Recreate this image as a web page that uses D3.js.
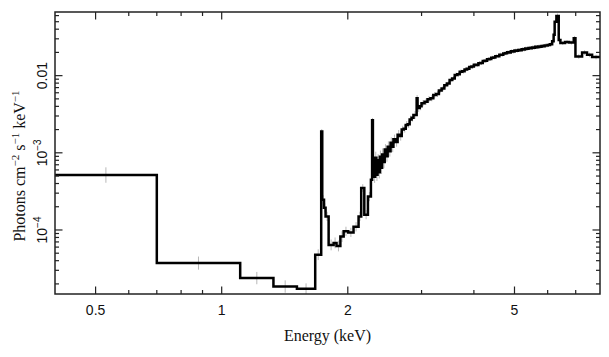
<!DOCTYPE html>
<html>
<head>
<meta charset="utf-8">
<script src="https://cdn.jsdelivr.net/npm/d3@7"></script>
<style>
  html, body { margin: 0; padding: 0; background: #fff; }
  svg { display: block; }
</style>
</head>
<body>
<svg id="chart" width="609" height="357"></svg>
<script>
// ---------------- data ----------------
// bin edges in keV (n+1 values)
const binEdges = [
  0.40, 0.70, 1.107, 1.329, 1.512, 1.672, 1.728, 1.738, 1.755, 1.77, 1.80,
  1.85, 1.88, 1.92, 1.955, 2.005, 2.064, 2.122, 2.153, 2.19, 2.234,
  2.271, 2.286, 2.296, 2.31, 2.325, 2.34, 2.355, 2.37, 2.385, 2.40,
  2.415, 2.43, 2.45, 2.47, 2.49, 2.51, 2.53, 2.55, 2.57, 2.60,
  2.63, 2.66, 2.69, 2.72, 2.75, 2.78, 2.81, 2.84, 2.87, 2.92,
  2.935, 2.97, 3.00,
  3.05, 3.10, 3.15, 3.20, 3.25, 3.30, 3.35, 3.40, 3.45, 3.50,
  3.55, 3.60, 3.65, 3.70, 3.75, 3.80, 3.85, 3.90, 3.95, 4.00,
  4.05, 4.10, 4.15, 4.20, 4.25, 4.30, 4.35, 4.40, 4.45, 4.50,
  4.55, 4.60, 4.65, 4.70, 4.75, 4.80, 4.85, 4.90, 4.95, 5.00,
  5.05, 5.10, 5.15, 5.20, 5.25, 5.30, 5.35, 5.40, 5.45, 5.50,
  5.55, 5.60, 5.65, 5.70, 5.75, 5.80, 5.85, 5.90, 5.95, 6.00,
  6.075, 6.15, 6.2, 6.235, 6.295, 6.376, 6.436, 6.6, 6.75, 6.925,
  6.99, 7.25, 7.45, 7.66, 8.0
];
// photons cm^-2 s^-1 keV^-1 per bin
const fluxValues = [
  5.15e-4, 3.72e-5, 2.38e-5, 1.85e-5, 1.73e-5, 4.78e-5, 1.89e-3, 2.46e-4, 1.94e-4, 1.5e-4,
  6.4e-5, 6.8e-5, 6.2e-5, 8.2e-5, 9.6e-5, 9.3e-5, 1.1e-4, 1.5e-4, 3.49e-4, 1.58e-4,
  2.71e-4, 4.47e-4, 2.64e-3, 8.1e-4, 4.9e-4, 8.6e-4, 5.2e-4, 8.0e-4, 5.6e-4, 8.9e-4,
  6.4e-4, 9.5e-4, 7.6e-4, 1.1e-3, 9.0e-4, 1.2e-3, 1.05e-3, 1.35e-3, 1.2e-3, 1.5e-3,
  1.38e-3, 1.72e-3, 1.65e-3, 2.0e-3, 2.05e-3, 2.3e-3, 2.35e-3, 2.7e-3, 2.85e-3, 3.1e-3,
  5.1e-3, 3.8e-3, 4.0e-3,
  4.4e-3, 4.6e-3, 4.95e-3, 5.1e-3, 5.6e-3, 5.8e-3, 6.4e-3, 6.8e-3, 7.5e-3, 7.9e-3,
  8.8e-3, 9.2e-3, 1.02e-2, 1.04e-2, 1.12e-2, 1.14e-2, 1.2e-2, 1.23e-2, 1.29e-2, 1.31e-2,
  1.38e-2, 1.37e-2, 1.45e-2, 1.46e-2, 1.55e-2, 1.56e-2, 1.63e-2, 1.64e-2, 1.71e-2, 1.72e-2,
  1.79e-2, 1.79e-2, 1.87e-2, 1.86e-2, 1.94e-2, 1.95e-2, 2.01e-2, 2.00e-2, 2.07e-2, 2.05e-2,
  2.11e-2, 2.10e-2, 2.15e-2, 2.14e-2, 2.20e-2, 2.18e-2, 2.25e-2, 2.23e-2, 2.29e-2, 2.27e-2,
  2.32e-2, 2.30e-2, 2.36e-2, 2.34e-2, 2.39e-2, 2.37e-2, 2.43e-2, 2.41e-2, 2.46e-2, 2.45e-2,
  2.5e-2, 2.55e-2, 2.8e-2, 3.4e-2, 4.98e-2, 5.95e-2, 2.9e-2, 2.65e-2, 2.72e-2, 2.68e-2,
  3.05e-2, 1.77e-2, 1.99e-2, 1.86e-2, 1.74e-2
];
// error half-size per bin, in dex
const fluxErrDex = [
  0.10, 0.085, 0.08, 0.08, 0.07, 0.07, 0.03, 0.06, 0.06, 0.06,
  0.07, 0.07, 0.07, 0.07, 0.06, 0.06, 0.06, 0.06, 0.05, 0.06,
  0.06, 0.06, 0.03, 0.08, 0.08, 0.08, 0.08, 0.08, 0.08, 0.08,
  0.08, 0.08, 0.08, 0.07, 0.07, 0.07, 0.07, 0.07, 0.07, 0.06,
  0.06, 0.06, 0.06, 0.05, 0.05, 0.05, 0.05, 0.05, 0.05, 0.05,
  0.04, 0.05, 0.05,
  0.04, 0.04, 0.04, 0.04, 0.04, 0.04, 0.035, 0.035, 0.035, 0.035,
  0.03, 0.03, 0.03, 0.03, 0.03, 0.03, 0.03, 0.03, 0.03, 0.03,
  0.025, 0.025, 0.025, 0.025, 0.025, 0.025, 0.025, 0.025, 0.025, 0.025,
  0.025, 0.025, 0.025, 0.025, 0.025, 0.025, 0.025, 0.025, 0.025, 0.025,
  0.025, 0.025, 0.025, 0.025, 0.025, 0.025, 0.025, 0.025, 0.025, 0.025,
  0.025, 0.025, 0.025, 0.025, 0.025, 0.025, 0.025, 0.025, 0.025, 0.025,
  0.025, 0.025, 0.03, 0.03, 0.03, 0.03, 0.03, 0.025, 0.025, 0.025,
  0.03, 0.03, 0.03, 0.03, 0.03
];

const xMajorTicks = [0.5, 1, 2, 5];
const xMajorLabels = ["0.5", "1", "2", "5"];
const xMinorTicks = [0.6, 0.7, 0.8, 0.9, 3, 4, 6, 7];
const yMajorTicks = [1e-4, 1e-3, 1e-2];
const yMajorLabels = [["10", "\u22124"], ["10", "\u22123"], ["0.01", ""]];
const yMinorTicks = [2e-5,3e-5,4e-5,5e-5,6e-5,7e-5,8e-5,9e-5,
                     2e-4,3e-4,4e-4,5e-4,6e-4,7e-4,8e-4,9e-4,
                     2e-3,3e-3,4e-3,5e-3,6e-3,7e-3,8e-3,9e-3,
                     2e-2,3e-2,4e-2,5e-2,6e-2];
const xDomain = [0.4, 8.0];
const yDomain = [1.48e-5, 0.0668];
const xTitle = "Energy (keV)";

// ---------------- layout ----------------
const L = 55, R = 600, T = 12, B = 294;
const svg = d3.select("#chart");
const x = d3.scaleLog().domain(xDomain).range([L, R]);
const y = d3.scaleLog().domain(yDomain).range([B, T]);

svg.append("defs").append("clipPath").attr("id", "clip")
  .append("rect").attr("x", L).attr("y", T).attr("width", R - L).attr("height", B - T);

const plot = svg.append("g").attr("clip-path", "url(#clip)");

// bins
const bins = fluxValues.map((v, i) => ({lo: binEdges[i], hi: binEdges[i + 1], v, e: fluxErrDex[i]}));

// error bars (grey)
plot.append("g").selectAll("line").data(bins).join("line")
  .attr("x1", d => x(Math.sqrt(d.lo * d.hi)))
  .attr("x2", d => x(Math.sqrt(d.lo * d.hi)))
  .attr("y1", d => y(d.v * Math.pow(10, -d.e)))
  .attr("y2", d => y(d.v * Math.pow(10, d.e)))
  .attr("stroke", "#b8b8b8").attr("stroke-width", 1);

// step line
const stepPts = bins.map(d => [d.lo, d.v]);
stepPts.push([bins[bins.length - 1].hi, bins[bins.length - 1].v]);
const line = d3.line().x(d => x(d[0])).y(d => y(d[1])).curve(d3.curveStepAfter);
plot.append("path").attr("d", line(stepPts))
  .attr("fill", "none").attr("stroke", "#000").attr("stroke-width", 2.5)
  .attr("stroke-linejoin", "miter");

// frame
const axisColor = "#222";
svg.append("rect").attr("x", L).attr("y", T).attr("width", R - L).attr("height", B - T)
  .attr("fill", "none").attr("stroke", axisColor).attr("stroke-width", 1.5);

const majLen = 7.5, minLen = 4;
const tickG = svg.append("g").attr("stroke", axisColor).attr("stroke-width", 1.2);
function xTicks(vals, len) {
  vals.forEach(v => {
    tickG.append("line").attr("x1", x(v)).attr("x2", x(v)).attr("y1", B).attr("y2", B - len);
    tickG.append("line").attr("x1", x(v)).attr("x2", x(v)).attr("y1", T).attr("y2", T + len);
  });
}
function yTicks(vals, len) {
  vals.forEach(v => {
    tickG.append("line").attr("x1", L).attr("x2", L + len).attr("y1", y(v)).attr("y2", y(v));
    tickG.append("line").attr("x1", R).attr("x2", R - len).attr("y1", y(v)).attr("y2", y(v));
  });
}
xTicks(xMajorTicks, majLen);
xTicks(xMinorTicks, minLen);
yTicks(yMajorTicks, majLen);
yTicks(yMinorTicks, minLen);

// tick labels
const sans = "'Liberation Sans', Arial, Helvetica, sans-serif";
const serif = "'Liberation Serif', 'Times New Roman', serif";
svg.append("g").selectAll("text").data(xMajorTicks).join("text")
  .attr("x", d => x(d)).attr("y", 315)
  .attr("text-anchor", "middle").attr("font-family", sans).attr("font-size", 14).attr("fill", "#111")
  .text((d, i) => xMajorLabels[i]);

yMajorTicks.forEach((v, i) => {
  const t = svg.append("text")
    .attr("transform", `translate(46.5,${y(v)}) rotate(-90)`)
    .attr("text-anchor", "middle").attr("font-family", sans).attr("font-size", 14).attr("fill", "#111");
  t.append("tspan").text(yMajorLabels[i][0]);
  if (yMajorLabels[i][1]) {
    t.append("tspan").attr("dy", -6).attr("font-size", 10).text(yMajorLabels[i][1]);
  }
});

// axis titles
svg.append("text").attr("x", (L + R) / 2).attr("y", 341)
  .attr("text-anchor", "middle").attr("font-family", serif).attr("font-size", 16).attr("fill", "#111")
  .text(xTitle);

const yt = svg.append("text")
  .attr("transform", `translate(24.5,166) rotate(-90)`)
  .attr("text-anchor", "middle").attr("font-family", serif).attr("font-size", 16).attr("fill", "#111");
const yTitleParts = [["Photons cm", ""], ["\u22122", "sup"], [" s", ""], ["\u22121", "sup"], [" keV", ""], ["\u22121", "sup"]];
yTitleParts.forEach((p, i) => {
  const prev = i > 0 ? yTitleParts[i - 1][1] : "";
  const ts = yt.append("tspan").text(p[0]);
  if (p[1] === "sup") ts.attr("font-size", 11).attr("dy", -6);
  else if (prev === "sup") ts.attr("dy", 6);
});
</script>
</body>
</html>
